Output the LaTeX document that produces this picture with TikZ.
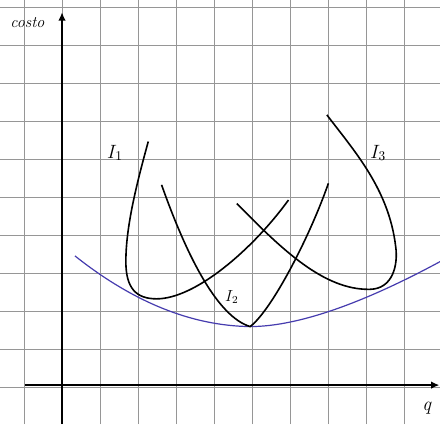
\documentclass[tikz,border=0pt]{standalone}
\usetikzlibrary{arrows.meta}
\definecolor{gridgray}{RGB}{150,150,150}
\definecolor{envblue}{RGB}{70,60,175}
\tikzset{
  gridline/.style={draw=gridgray, line width=0.6pt},
  axisline/.style={draw=black, line width=1.1pt, -{Latex[length=2.2mm,width=2mm]}},
  costcurve/.style={draw=black, line width=1.2pt},
  envelope/.style={draw=envblue, line width=0.9pt},
  lbl/.style={font=\Large, inner sep=0pt}
}
\begin{document}
\begin{tikzpicture}[x=1cm,y=1cm]
\useasboundingbox (-1.632,-0.974) rectangle (9.947,10.184);
\fill[white] (-1.632,-0.974) rectangle (9.947,10.184);
% grid
\foreach \i in {-1,...,9} \draw[gridline] (\i,-0.974) -- (\i,10.184);
\foreach \j in {0,...,10} \draw[gridline] (-1.632,\j) -- (9.947,\j);
% axes
\coordinate (ybot) at (0,-0.974);
\coordinate (ytop) at (0,9.86);
\coordinate (xleft) at (-0.97,0.05);
\coordinate (xright) at (9.93,0.05);
\draw[axisline] (ybot) -- (ytop);
\draw[axisline] (xleft) -- (xright);
\node[font=\large\itshape, inner sep=0pt] (costo) at (-0.91,9.58) {costo};
\node[font=\Large\itshape, inner sep=0pt] (q) at (9.6,-0.55) {q};
% envelope
\draw[envelope] (0.34,3.45) .. controls (1.877,2.23) and (3.413,1.61) .. (4.95,1.59)
                .. controls (6.3,1.59) and (8.1,2.3) .. (9.95,3.30);
% I1
\draw[costcurve] (2.27,6.46) .. controls (1.95,5.3) and (1.68,4.2) .. (1.68,3.3)
                 .. controls (1.68,2.6) and (1.95,2.32) .. (2.49,2.32)
                 .. controls (3.5,2.32) and (5.0,3.6) .. (5.96,4.92);
% I2
\draw[costcurve] (2.62,5.32) .. controls (3.3,3.4) and (4.1,1.85) .. (4.95,1.59)
                 .. controls (5.5,2.0) and (6.5,3.9) .. (7.01,5.36);
% I3
\draw[costcurve] (4.6,4.83) .. controls (5.8,3.6) and (6.9,2.55) .. (8.1,2.57)
                 .. controls (8.7,2.58) and (8.85,3.2) .. (8.78,3.7)
                 .. controls (8.6,5.2) and (7.7,6.2) .. (6.97,7.16);
% labels
\node[lbl] (l1) at (1.39,6.16) {$I_1$};
\node[lbl, font=\large] (l2) at (4.47,2.37) {$I_2$};
\node[lbl] (l3) at (8.32,6.16) {$I_3$};
\end{tikzpicture}
\end{document}
